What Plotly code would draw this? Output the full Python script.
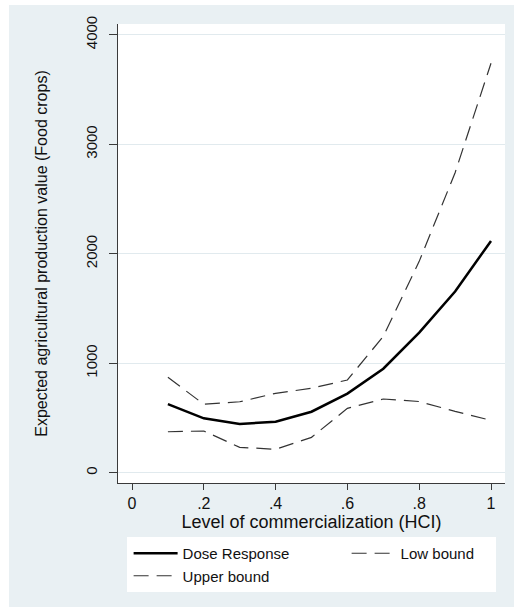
import plotly.graph_objects as go

# Data
hci = [0.1, 0.2, 0.3, 0.4, 0.5, 0.6, 0.7, 0.8, 0.9, 1.0]
dose_response = [627, 497, 445, 466, 557, 722, 950, 1280, 1655, 2117]
low_bound = [374, 381, 232, 214, 323, 588, 673, 650, 560, 478]
upper_bound = [871, 625, 648, 725, 771, 847, 1245, 1930, 2740, 3740]

x_tickvals = [0, 0.2, 0.4, 0.6, 0.8, 1.0]
x_ticktext = ["0", ".2", ".4", ".6", ".8", "1"]
y_tickvals = [0, 1000, 2000, 3000, 4000]
y_ticktext = ["0", "1000", "2000", "3000", "4000"]

FONT = "Liberation Sans, Arial, sans-serif"
BG = "#e9f0f3"
GRID = "#e1eaee"
AXIS = "#3a3a3a"

fig = go.Figure()
fig.add_trace(go.Scatter(x=hci, y=dose_response, mode="lines", name="Dose Response",
                         line=dict(color="#000000", width=2.5)))
fig.add_trace(go.Scatter(x=hci, y=low_bound, mode="lines", name="Low bound",
                         line=dict(color="#333333", width=1.2, dash="15px,8px")))
fig.add_trace(go.Scatter(x=hci, y=upper_bound, mode="lines", name="Upper bound",
                         line=dict(color="#333333", width=1.2, dash="15px,8px")))

W, H = 514, 607
L, R, T, B = 118, 9, 24, 124
pw = W - L - R
ph = H - T - B


def px_x(p):
    return (p - L) / pw


def px_y(p):
    return (H - B - p) / ph


fig.update_layout(
    width=W, height=H,
    margin=dict(l=L, r=R, t=T, b=B, pad=0, autoexpand=False),
    paper_bgcolor="white",
    plot_bgcolor="white",
    font=dict(family=FONT, size=15, color="#111111"),
    showlegend=True,
    legend=dict(
        orientation="h",
        x=-0.001, xanchor="left",
        y=px_y(537), yanchor="top",
        bgcolor="rgba(0,0,0,0)",
        font=dict(family=FONT, size=15, color="#111111"),
        entrywidth=148,
        itemwidth=44,
        indentation=11,
        traceorder="normal",
    ),
    shapes=[
        dict(type="rect", xref="paper", yref="paper", layer="below",
             x0=px_x(9), x1=px_x(W), y0=px_y(H), y1=px_y(5),
             fillcolor=BG, line=dict(width=0)),
        dict(type="rect", xref="paper", yref="paper", layer="below",
             x0=0, x1=1, y0=0, y1=1,
             fillcolor="white", line=dict(width=0)),
        dict(type="rect", xref="paper", yref="paper", layer="below",
             x0=px_x(127), x1=px_x(496), y0=px_y(592), y1=px_y(537),
             fillcolor="white", line=dict(width=0)),
    ],
    xaxis=dict(
        range=[-0.039, 1.039],
        tickvals=x_tickvals, ticktext=x_ticktext,
        showgrid=False, zeroline=False,
        showline=True, linecolor=AXIS, linewidth=1.2,
        ticks="outside", ticklen=6, tickcolor=AXIS, tickwidth=1.2,
        tickfont=dict(family=FONT, size=16, color="#111111"),
        title=dict(text="Level of commercialization (HCI)",
                   font=dict(family=FONT, size=18, color="#111111"), standoff=0),
    ),
    yaxis=dict(
        range=[-94, 4098],
        tickvals=y_tickvals, ticktext=y_ticktext,
        showgrid=True, gridcolor=GRID, gridwidth=1.2,
        zeroline=False,
        showline=True, linecolor=AXIS, linewidth=1.2,
        ticks="outside", ticklen=8, tickcolor=AXIS, tickwidth=1.2,
        tickangle=-90, ticklabelstandoff=6,
        tickfont=dict(family=FONT, size=15, color="#111111"),
        title=dict(text="Expected agricultural production value (Food crops)",
                   font=dict(family=FONT, size=16, color="#111111"), standoff=31),
    ),
)

fig.write_html("out.html")
